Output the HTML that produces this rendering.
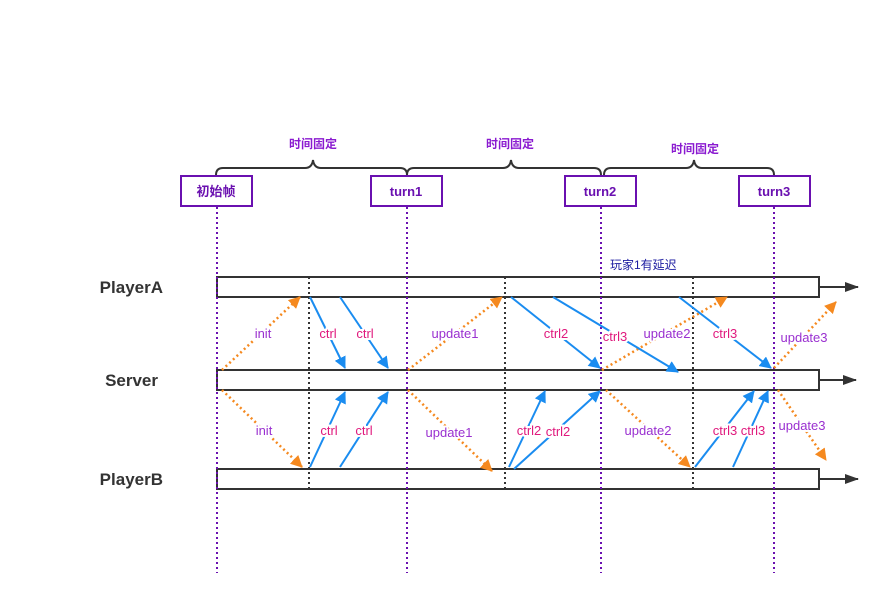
<!DOCTYPE html>
<html><head><meta charset="utf-8"><style>
body{margin:0;background:#fff}
svg text{font-family:"Liberation Sans","Noto Sans CJK SC",sans-serif}
</style></head><body>
<svg width="890" height="606" xmlns="http://www.w3.org/2000/svg">
<defs>
<marker id="b" markerWidth="12" markerHeight="12" refX="11" refY="6" orient="auto" markerUnits="userSpaceOnUse" viewBox="0 0 12 12"><path d="M0,0 L12,6 L0,12 z" fill="#1a8cf0"/></marker>
<marker id="o" markerWidth="12" markerHeight="12" refX="11" refY="6" orient="auto" markerUnits="userSpaceOnUse" viewBox="0 0 12 12"><path d="M0,0 L12,6 L0,12 z" fill="#f5891f"/></marker>
<marker id="k" markerWidth="14" markerHeight="10" refX="13" refY="5" orient="auto" markerUnits="userSpaceOnUse" viewBox="0 0 14 10"><path d="M0,0 L14,5 L0,10 z" fill="#333"/></marker>
</defs>
<g fill="none" stroke="#333" stroke-width="2">
<path d="M216,175 q0,-7 7,-7 H305 q7,0 8,-8 q1,8 8,8 H400 q7,0 7,7"/>
<path d="M407,175 q0,-7 7,-7 H503 q7,0 8,-8 q1,8 8,8 H594 q7,0 7,7"/>
<path d="M604,175 q0,-7 7,-7 H686 q7,0 8,-8 q1,8 8,8 H767 q7,0 7,7"/>
</g>
<g fill="#8a1ad0" font-size="12" font-weight="bold" text-anchor="middle">
<text x="313" y="148">时间固定</text><text x="510" y="148">时间固定</text><text x="695" y="153">时间固定</text>
</g>
<g stroke="#6a10b0" stroke-width="2" stroke-dasharray="2,3">
<line x1="217" y1="207" x2="217" y2="573"/><line x1="407" y1="207" x2="407" y2="573"/>
<line x1="601" y1="207" x2="601" y2="573"/><line x1="774" y1="207" x2="774" y2="573"/>
</g>
<g fill="#fff" stroke="#6a10b0" stroke-width="2">
<rect x="181" y="176" width="71" height="30"/><rect x="371" y="176" width="71" height="30"/>
<rect x="565" y="176" width="71" height="30"/><rect x="739" y="176" width="71" height="30"/>
</g>
<g fill="#6a10b0" font-size="13" font-weight="bold" text-anchor="middle">
<text x="216" y="196">初始帧</text><text x="406" y="196">turn1</text><text x="600" y="196">turn2</text><text x="774" y="196">turn3</text>
</g>
<g fill="none" stroke="#333" stroke-width="2">
<rect x="217" y="277" width="602" height="20"/><rect x="217" y="370" width="602" height="20"/><rect x="217" y="469" width="602" height="20"/>
</g>
<g stroke="#333" stroke-width="2">
<line x1="819" y1="287" x2="858" y2="287" marker-end="url(#k)"/>
<line x1="819" y1="380" x2="856" y2="380" marker-end="url(#k)"/>
<line x1="819" y1="479" x2="858" y2="479" marker-end="url(#k)"/>
</g>
<g stroke="#333" stroke-width="2" stroke-dasharray="2,3">
<line x1="309" y1="277" x2="309" y2="489"/><line x1="505" y1="277" x2="505" y2="489"/><line x1="693" y1="277" x2="693" y2="489"/>
</g>
<g stroke="#6a10b0" stroke-width="2" stroke-dasharray="2,3">
<line x1="217" y1="277" x2="217" y2="489"/><line x1="407" y1="277" x2="407" y2="489"/><line x1="601" y1="277" x2="601" y2="489"/><line x1="774" y1="277" x2="774" y2="489"/>
</g>
<text x="610" y="269" font-size="12" fill="#1a1aa0">玩家1有延迟</text>
<g font-size="17" font-weight="bold" fill="#333" text-anchor="end">
<text x="163" y="293">PlayerA</text><text x="158" y="386">Server</text><text x="163" y="485">PlayerB</text>
</g>
<g stroke="#f5891f" stroke-width="2.5" stroke-dasharray="2,3" marker-end="url(#o)">
<line x1="222" y1="370" x2="300" y2="297"/><line x1="222" y1="390" x2="302" y2="467"/>
<line x1="408" y1="370" x2="502" y2="297"/><line x1="408" y1="390" x2="492" y2="471"/>
<line x1="602" y1="370" x2="727" y2="297"/><line x1="606" y1="390" x2="690" y2="467"/>
<line x1="774" y1="368" x2="836" y2="302"/><line x1="778" y1="390" x2="826" y2="460"/>
</g>
<g stroke="#1a8cf0" stroke-width="2" marker-end="url(#b)">
<line x1="310" y1="297" x2="345" y2="368"/><line x1="340" y1="297" x2="388" y2="368"/>
<line x1="310" y1="467" x2="345" y2="392"/><line x1="340" y1="467" x2="388" y2="392"/>
<line x1="511" y1="297" x2="600" y2="368"/><line x1="553" y1="297" x2="678" y2="372"/>
<line x1="679" y1="297" x2="771" y2="368"/>
<line x1="509" y1="467" x2="545" y2="391"/><line x1="514" y1="469" x2="600" y2="391"/>
<line x1="695" y1="467" x2="754" y2="391"/><line x1="733" y1="467" x2="768" y2="391"/>
</g>
<g font-size="13" text-anchor="middle">
<g fill="#e0197d" stroke="#fff" stroke-width="4" paint-order="stroke">
<text x="328" y="338">ctrl</text><text x="365" y="338">ctrl</text>
<text x="329" y="435">ctrl</text><text x="364" y="435">ctrl</text>
<text x="556" y="338">ctrl2</text><text x="615" y="341">ctrl3</text><text x="725" y="338">ctrl3</text>
<text x="529" y="435">ctrl2</text><text x="558" y="436">ctrl2</text>
<text x="725" y="435">ctrl3</text><text x="753" y="435">ctrl3</text>
</g>
<g fill="#9a30d0" stroke="#fff" stroke-width="4" paint-order="stroke">
<text x="263" y="338">init</text><text x="264" y="435">init</text>
<text x="455" y="338">update1</text><text x="449" y="437">update1</text>
<text x="667" y="338">update2</text><text x="648" y="435">update2</text>
<text x="804" y="342">update3</text><text x="802" y="430">update3</text>
</g>
</g>
</svg>
</body></html>
